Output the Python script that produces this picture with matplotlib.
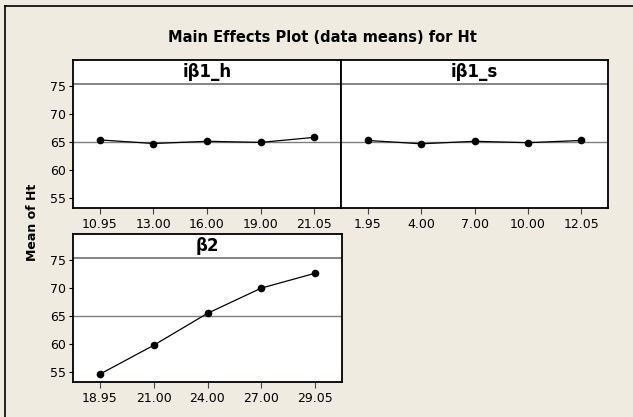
import numpy as np
import matplotlib.pyplot as plt
from matplotlib.lines import Line2D

# data
h_levels = ["10.95", "13.00", "16.00", "19.00", "21.05"]
h_means = [65.35, 64.7, 65.1, 64.9, 65.8]

s_levels = ["1.95", "4.00", "7.00", "10.00", "12.05"]
s_means = [65.25, 64.65, 65.1, 64.85, 65.25]

b2_levels = ["18.95", "21.00", "24.00", "27.00", "29.05"]
b2_means = [54.6, 59.75, 65.45, 69.95, 72.6]

grand_mean = 65.0
yticks = [55, 60, 65, 70, 75]

W, H = 633, 417
bg = "#EFEBE1"

fig = plt.figure(figsize=(W / 100, H / 100), dpi=100)
fig.patch.set_facecolor(bg)

# outer frame (only left and top edges are visible)
fig.add_artist(Line2D([5 / W, 5 / W], [0, 1 - 6 / H], color="black", lw=1.2, transform=fig.transFigure))
fig.add_artist(Line2D([5 / W, 1], [1 - 6 / H, 1 - 6 / H], color="black", lw=1.2, transform=fig.transFigure))

fig.text(322 / W, 1 - 37 / H, "Main Effects Plot (data means) for Ht",
         ha="center", va="center", fontsize=10.5, fontweight="bold")
fig.text(33 / W, 1 - 222 / H, "Mean of Ht", rotation=90,
         ha="center", va="center", fontsize=9, fontweight="bold")

ylo, yhi = 53.2, 79.6
hdr = 75.35


def panel(left, top, width, title, levels, means, show_y):
    ax = fig.add_axes([left / W, 1 - (top + 148) / H, width / W, 148 / H])
    ax.set_facecolor("white")
    x = np.arange(1, len(levels) + 1)
    ax.axhline(grand_mean, color="#7F7F7F", lw=1.0, zorder=1)
    ax.axhline(hdr, color="#6F6F6F", lw=1.2, zorder=1)
    ax.plot(x, means, color="black", lw=0.9, marker="o", markersize=4.5, zorder=3)
    ax.set_xlim(0.5, 5.5)
    ax.set_ylim(ylo, yhi)
    ax.set_xticks(x)
    ax.set_xticklabels(levels)
    ax.text(3, (hdr + yhi) / 2, title, ha="center", va="center",
            fontsize=12, fontweight="bold")
    if show_y:
        ax.set_yticks(yticks)
        ax.tick_params(axis="y", length=3, width=0.8, labelsize=9, pad=2)
    else:
        ax.set_yticks([])
    ax.tick_params(axis="x", length=4, width=0.8, labelsize=9, pad=3, color="#444444")
    for sp in ax.spines.values():
        sp.set_linewidth(1.3)
        sp.set_color("black")
    return ax


panel(73, 60, 268, "iβ1_h", h_levels, h_means, True)
panel(341, 60, 267, "iβ1_s", s_levels, s_means, False)
panel(73, 234, 269, "β2", b2_levels, b2_means, True)

fig.savefig("out.png", dpi=100, facecolor=bg)
